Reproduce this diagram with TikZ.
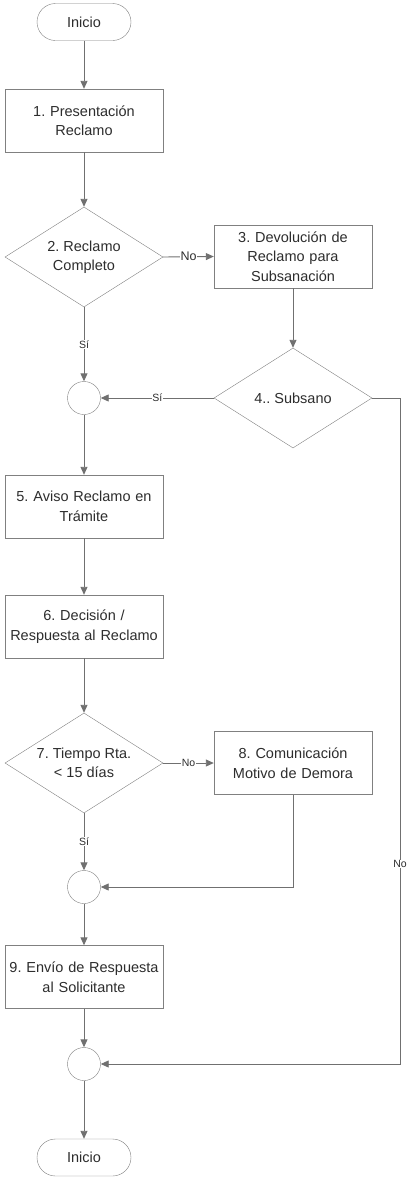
\documentclass[tikz,border=0pt]{standalone}
\usepackage{fontspec}
\setmainfont{Liberation Sans}
\usepackage{tikz}
\usetikzlibrary{shapes.geometric, arrows.meta, positioning}
\definecolor{linegray}{RGB}{112, 112, 112}
\definecolor{boxgray}{RGB}{128, 128, 128}
\definecolor{textgray}{RGB}{45, 45, 45}
\frenchspacing

\tikzset{
  proc/.style={rectangle, draw=boxgray, fill=white, minimum width=158pt, minimum height=63pt,
    text width=154pt, align=center, inner sep=0pt, text=textgray,
    font=\fontsize{14.5}{19.5}\selectfont},
  decision/.style={diamond, draw=boxgray, fill=white, minimum width=158pt, minimum height=100pt,
    inner sep=0pt},
  dtext/.style={align=center, text=textgray, inner sep=0pt, font=\fontsize{14.5}{19.5}\selectfont},
  terminal/.style={rectangle, rounded corners=18.5pt, draw=boxgray, fill=white,
    minimum width=94pt, minimum height=37pt, text=textgray, font=\fontsize{14.5}{19.5}\selectfont},
  junction/.style={circle, draw=boxgray, fill=white, minimum size=33pt, inner sep=0pt},
  flow/.style={draw=linegray, line width=0.9pt, -{Triangle[length=8pt, width=7pt]}},
  cond/.style={fill=white, inner sep=0.5pt, text=textgray, font=\fontsize{10.5}{12}\selectfont}
}

\begin{document}
\begin{tikzpicture}[x=1pt, y=-1pt]

  % marco
  \useasboundingbox (0,0) rectangle (414,1181);

  % nodos de la columna principal
  \node[terminal] (ini) at (84,22) {Inicio};
  \node[proc] (p1) at (84,120.5) {1. Presentación\\Reclamo};
  \node[decision, label={[dtext]center:2. Reclamo\\Completo}] (d2) at (84,257) {};
  \node[junction] (c1) at (84,398) {};
  \node[proc] (p5) at (84,506.5) {5. Aviso Reclamo en\\Trámite};
  \node[proc] (p6) at (84,626.5) {6. Decisión /\\Respuesta al Reclamo};
  \node[decision, label={[dtext]center:7. Tiempo Rta.\\< 15 días}] (d7) at (84,763) {};
  \node[junction] (c2) at (84,887) {};
  \node[proc] (p9) at (84,977) {9. Envío de Respuesta\\al Solicitante};
  \node[junction] (c3) at (84,1064) {};
  \node[terminal] (fin) at (84,1157.5) {Inicio};

  % columna derecha
  \node[proc] (p3) at (293,256.5) {3. Devolución de\\Reclamo para\\Subsanación};
  \node[decision, label={[dtext]center:4.. Subsano}] (d4) at (293,398) {};
  \node[proc] (p8) at (293,763) {8. Comunicación\\Motivo de Demora};
  \coordinate (rgt) at (400,398);

  % flujo principal
  \draw[flow] (ini) -- (p1);
  \draw[flow] (p1) -- (d2);
  \draw[flow] (d2) -- node[cond] {Sí} (c1);
  \draw[flow] (c1) -- (p5);
  \draw[flow] (p5) -- (p6);
  \draw[flow] (p6) -- (d7);
  \draw[flow] (d7) -- node[cond] {Sí} (c2);
  \draw[flow] (c2) -- (p9);
  \draw[flow] (p9) -- (c3);
  \draw[flow] (c3) -- (fin);

  % ramas
  \draw[flow] (d2.east) -- node[cond, font=\fontsize{12.5}{14}\selectfont] {No} (p3.west);
  \draw[flow] (p3) -- (d4);
  \draw[flow] (d4.west) -- node[cond] {Sí} (c1.east);
  \draw[flow] (d7.east) -- node[cond] {No} (p8.west);
  \draw[flow] (p8.south) |- (c2.east);
  \draw[flow] (d4.east) -- (rgt) |- node[cond, pos=0.35] {No} (c3.east);

\end{tikzpicture}
\end{document}
